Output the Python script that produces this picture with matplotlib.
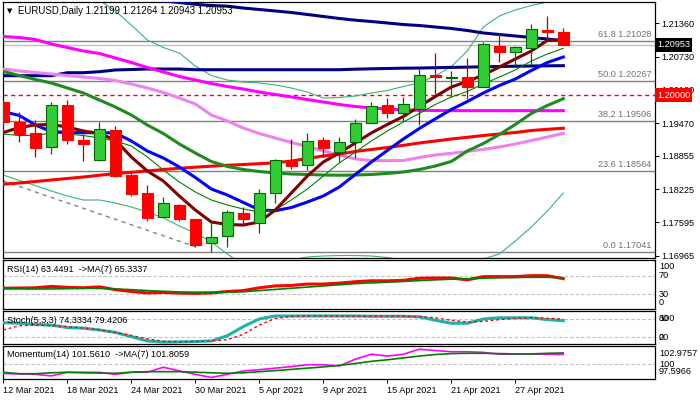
import matplotlib
matplotlib.use('Agg')
import matplotlib.pyplot as plt
from matplotlib.patches import Rectangle
import pandas as pd

plt.rcParams['font.family'] = ['Liberation Sans', 'DejaVu Sans']

# ---------------- data ----------------
dates = ['2021-03-12', '2021-03-15', '2021-03-16', '2021-03-17', '2021-03-18', '2021-03-19',
         '2021-03-22', '2021-03-23', '2021-03-24', '2021-03-25', '2021-03-26', '2021-03-29',
         '2021-03-30', '2021-03-31', '2021-04-01', '2021-04-02', '2021-04-05', '2021-04-06',
         '2021-04-07', '2021-04-08', '2021-04-09', '2021-04-12', '2021-04-13', '2021-04-14',
         '2021-04-15', '2021-04-16', '2021-04-19', '2021-04-20', '2021-04-21', '2021-04-22',
         '2021-04-23', '2021-04-26', '2021-04-27', '2021-04-28', '2021-04-29', '2021-04-30']

opens = [1.19877, 1.19493, 1.19279, 1.19015, 1.19809, 1.19152, 1.18774, 1.19342, 1.18490, 1.18149,
         1.17690, 1.17928, 1.17652, 1.17198, 1.17330, 1.17766, 1.17576, 1.18144, 1.18755, 1.18673,
         1.19152, 1.18920, 1.19109, 1.19480, 1.19815, 1.19657, 1.19733, 1.20382, 1.20331, 1.20350,
         1.20149, 1.20925, 1.20811, 1.20887, 1.21233, 1.21199]
highs = [1.19910, 1.19688, 1.19525, 1.19871, 1.19909, 1.19241, 1.19493, 1.19417, 1.18553, 1.18301,
         1.18068, 1.17940, 1.17660, 1.17620, 1.17828, 1.17879, 1.18220, 1.18790, 1.19171, 1.19280,
         1.19215, 1.19203, 1.19549, 1.19877, 1.19941, 1.19960, 1.20495, 1.20804, 1.20463, 1.20698,
         1.21001, 1.21171, 1.20925, 1.21347, 1.21504, 1.21264]
lows = [1.19270, 1.19120, 1.18836, 1.18882, 1.19071, 1.18755, 1.18755, 1.18447, 1.18093, 1.17620,
        1.17690, 1.17620, 1.17134, 1.17041, 1.17134, 1.17525, 1.17399, 1.17955, 1.18598, 1.18585,
        1.18836, 1.18730, 1.18812, 1.19468, 1.19563, 1.19518, 1.19440, 1.20017, 1.19971, 1.19928,
        1.20149, 1.20634, 1.20571, 1.20571, 1.21044, 1.20943]
closes = [1.19498, 1.19271, 1.19007, 1.19809, 1.19147, 1.19071, 1.19355, 1.18477, 1.18136, 1.17682,
          1.17955, 1.17658, 1.17172, 1.17317, 1.17785, 1.17652, 1.18144, 1.18768, 1.18666, 1.19139,
          1.19007, 1.19109, 1.19480, 1.19796, 1.19657, 1.19828, 1.20382, 1.20350, 1.20339, 1.20149,
          1.20963, 1.20811, 1.20906, 1.21246, 1.21190, 1.20953]

ma_navy_upper = [1.22087, 1.22057, 1.22027, 1.21996, 1.21966, 1.21936, 1.21905, 1.21875, 1.21845, 1.21815,
                 1.21784, 1.21754, 1.21719, 1.21697, 1.21684, 1.21649, 1.21621, 1.21593, 1.21564, 1.21527,
                 1.21489, 1.21451, 1.21419, 1.21394, 1.21366, 1.21337, 1.21318, 1.21290, 1.21262, 1.21224,
                 1.21177, 1.21148, 1.21120, 1.21091, 1.21063, 1.21031]
ma_navy_lower = [1.20369, 1.20369, 1.20369, 1.20369, 1.20425, 1.20425, 1.20444, 1.20477, 1.20486, 1.20495,
                 1.20495, 1.20495, 1.20482, 1.20482, 1.20482, 1.20482, 1.20482, 1.20482, 1.20482, 1.20482,
                 1.20482, 1.20482, 1.20492, 1.20499, 1.20505, 1.20511, 1.20514, 1.20520, 1.20526, 1.20531,
                 1.20537, 1.20543, 1.20548, 1.20552, 1.20556, 1.20558]
ma_magenta = [1.21110, 1.21091, 1.21054, 1.20968, 1.20902, 1.20836, 1.20789, 1.20704, 1.20618, 1.20524,
              1.20439, 1.20354, 1.20287, 1.20221, 1.20164, 1.20117, 1.20060, 1.20013, 1.19966, 1.19918,
              1.19871, 1.19824, 1.19786, 1.19758, 1.19739, 1.19724, 1.19714, 1.19710, 1.19708, 1.19707,
              1.19707, 1.19707, 1.19707, 1.19707, 1.19707, 1.19707]
ma_violet = [1.20495, 1.20458, 1.20429, 1.20401, 1.20372, 1.20344, 1.20316, 1.20278, 1.20212, 1.20136,
             1.20051, 1.19947, 1.19833, 1.19625, 1.19512, 1.19379, 1.19275, 1.19190, 1.19105, 1.19029,
             1.18944, 1.18869, 1.18793, 1.18764, 1.18761, 1.18764, 1.18821, 1.18869, 1.18901, 1.18935,
             1.18976, 1.19020, 1.19077, 1.19143, 1.19209, 1.19279]
ma_red = [1.18316, 1.18339, 1.18367, 1.18396, 1.18424, 1.18452, 1.18485, 1.18517, 1.18541, 1.18566,
          1.18594, 1.18617, 1.18638, 1.18657, 1.18674, 1.18689, 1.18704, 1.18721, 1.18755, 1.18802,
          1.18850, 1.18887, 1.18935, 1.18973, 1.19010, 1.19052, 1.19096, 1.19133, 1.19171, 1.19203,
          1.19237, 1.19266, 1.19294, 1.19332, 1.19355, 1.19374]
ma_green = [1.20448, 1.20372, 1.20297, 1.20231, 1.20136, 1.20041, 1.19909, 1.19777, 1.19625, 1.19436,
            1.19275, 1.19077, 1.18906, 1.18746, 1.18651, 1.18594, 1.18556, 1.18528, 1.18509, 1.18500,
            1.18490, 1.18486, 1.18490, 1.18500, 1.18519, 1.18547, 1.18594, 1.18660, 1.18746, 1.18944,
            1.19086, 1.19256, 1.19446, 1.19654, 1.19805, 1.19934]
ma_blue = [1.19688, 1.19616, 1.19436, 1.19313, 1.19294, 1.19290, 1.19290, 1.19285, 1.19133, 1.18944,
           1.18812, 1.18642, 1.18443, 1.18225, 1.18112, 1.17970, 1.17832, 1.17815, 1.17875, 1.17979,
           1.18093, 1.18263, 1.18500, 1.18736, 1.18954, 1.19171, 1.19370, 1.19553, 1.19729, 1.19881,
           1.20041, 1.20183, 1.20306, 1.20467, 1.20618, 1.20722]
ma_maroon = [1.19294, 1.19389, 1.19436, 1.19446, 1.19398, 1.19323, 1.19275, 1.19152, 1.18831, 1.18566,
             1.18377, 1.18093, 1.17828, 1.17601, 1.17554, 1.17544, 1.17601, 1.17828, 1.18150, 1.18471,
             1.18736, 1.18906, 1.19096, 1.19285, 1.19446, 1.19597, 1.19786, 1.19975, 1.20155, 1.20259,
             1.20382, 1.20533, 1.20685, 1.20836, 1.21035, 1.21044]
ma_thin = [1.19266, 1.19237, 1.19237, 1.19285, 1.19266, 1.19237, 1.19190, 1.19133, 1.19039, 1.18831,
           1.18585, 1.18358, 1.18169, 1.18017, 1.17923, 1.17847, 1.17790, 1.17828, 1.18017, 1.18225,
           1.18471, 1.18717, 1.18925, 1.19133, 1.19323, 1.19493, 1.19654, 1.19824, 1.19966, 1.20070,
           1.20212, 1.20344, 1.20477, 1.20647, 1.20779, 1.20887]
bb_upper = [1.22936, 1.22747, 1.22558, 1.22368, 1.22179, 1.21990, 1.21801, 1.21593, 1.21328, 1.21044,
            1.20902, 1.20798, 1.20552, 1.20372, 1.20287, 1.20250, 1.20231, 1.20193, 1.20136, 1.20060,
            1.19947, 1.19956, 1.19985, 1.20041, 1.20089, 1.20164, 1.20231, 1.20363, 1.20543, 1.20836,
            1.21290, 1.21498, 1.21612, 1.21697, 1.21763, 1.21820]
bb_lower = [1.18490, 1.18386, 1.18292, 1.18187, 1.18093, 1.18017, 1.18017, 1.17960, 1.17885, 1.17790,
            1.17677, 1.17525, 1.17393, 1.17223, 1.16996, 1.16787, 1.16693, 1.16769, 1.16882, 1.16939,
            1.16958, 1.16967, 1.16967, 1.16958, 1.16929, 1.16882, 1.16844, 1.16825, 1.16844, 1.16863,
            1.16901, 1.16996, 1.17241, 1.17506, 1.17809, 1.18150]

trend_dates = ['2021-03-12', '2021-03-30']
trend_prices = [1.18377, 1.17134]

fib_levels = [1.21028, 1.20267, 1.19506, 1.18564, 1.17041]
fib_names = ['61.8', '50.0', '38.2', '23.6', '0.0']
bid_price = 1.20953
round_level = 1.20000
price_ticks = [1.21360, 1.20730, 1.20100, 1.19470, 1.18855, 1.18225, 1.17595, 1.16965]

rsi = [43, 43.5, 44, 47, 45, 44, 46, 40, 36, 33, 34, 32.5, 32, 33, 36, 38, 44, 48, 49, 52,
       52, 54, 57, 59, 59, 60, 64.5, 65, 65, 61, 68, 68, 68, 70, 70, 63.4491]
rsi_ma = [43, 42, 41.5, 41.5, 42, 43, 42.5, 41.5, 40, 38, 36.5, 35, 34.5, 34.2, 34.5, 35.5, 38, 40.5,
          43, 45.5, 48, 50.5, 53, 54.5, 56, 57.5, 59.5, 61, 62.5, 63.5, 64.5, 65.5, 66, 66.5, 66.5, 65.3337]
stoch_main = [68, 66, 62, 60, 52, 50, 44, 36, 22, 8, 4, 5, 6, 8, 25, 55, 80, 90, 90, 90,
              90, 90, 90, 89, 89, 89, 87, 76, 66, 66, 80, 84, 84, 84, 78, 74.3334]
stoch_signal = [44, 58, 60, 58, 55, 50, 45, 36, 26, 15, 7, 5, 6, 8, 12, 30, 60, 82, 88, 90,
                90, 89, 89, 89, 89, 89, 88, 84, 76, 70, 72, 78, 82, 84, 82, 79.4206]
momentum = [98.5, 98.4, 98.35, 98.1, 98.68, 98.68, 98.68, 98.35, 98.68, 98.68, 99.5, 98.9, 98.35,
            97.85, 98.35, 98.9, 99.1, 99.35, 99.6, 99.9, 99.9, 99.7, 100.8, 101.6, 101.3, 101.6,
            102.4, 102.2, 102.0, 102.0, 101.9, 101.6, 101.6, 101.6, 101.6, 101.5610]
momentum_ma = [98.68, 98.45, 98.45, 98.6, 98.68, 98.6, 98.55, 98.52, 98.7, 98.78, 98.78, 98.78, 98.7,
               98.6, 98.52, 98.6, 98.78, 98.95, 99.15, 99.35, 99.55, 99.8, 100.1, 100.45, 100.7,
               101.0, 101.3, 101.55, 101.7, 101.75, 101.75, 101.7, 101.65, 101.65, 101.75, 101.8059]
momentum_max = 102.9757
momentum_min = 97.5966

tick_dates = ['2021-03-12', '2021-03-18', '2021-03-24', '2021-03-30', '2021-04-05',
              '2021-04-09', '2021-04-15', '2021-04-21', '2021-04-27']

# ---------------- layout ----------------
W, H = 700, 400
fig = plt.figure(figsize=(7, 4), dpi=100)
fig.patch.set_facecolor('white')


def box(top, bottom, left=3, right=655):
    return [left / W, 1 - bottom / H, (right - left) / W, (bottom - top) / H]


ax = fig.add_axes(box(2, 258))
ax_rsi = fig.add_axes(box(259.5, 309))
ax_st = fig.add_axes(box(311, 344.3))
ax_mom = fig.add_axes(box(345.7, 379))

x = list(range(len(dates)))
pos = {d: i for i, d in enumerate(dates)}
XMIN, XMAX = -0.02, 40.73
FS = 6.6

for a in (ax, ax_rsi, ax_st, ax_mom):
    a.set_xlim(XMIN, XMAX)
    for s in a.spines.values():
        s.set_linewidth(0.9)
        s.set_color('black')
    a.tick_params(left=False, labelleft=False, bottom=False, labelbottom=False)

# ---------------- main chart ----------------
ax.set_ylim(1.16920, 1.21763)
ax.yaxis.tick_right()
ax.set_yticks(price_ticks)
ax.set_yticklabels([f'{v:.5f}' for v in price_ticks])
ax.tick_params(axis='y', right=True, labelright=True, length=3, width=0.7,
               pad=1.5, labelsize=FS, colors='black')

for lv, nm in zip(fib_levels, fib_names):
    ax.axhline(lv, color='#808080', lw=1.0, zorder=1)
    ax.annotate(f'{nm} {lv:.5f}', xy=(1, lv), xycoords=ax.get_yaxis_transform(),
                xytext=(-2.5, 1.5), textcoords='offset points', ha='right', va='bottom',
                fontsize=FS, color='#707070', zorder=6)
ax.axhline(bid_price, color='#C0C0C0', lw=1.0, zorder=1)
ax.axhline(round_level, color='#FF0000', lw=1.0, ls=(0, (3, 2.5)), zorder=1)

ax.plot(x, bb_upper, color='#3CB371', lw=0.8, zorder=2)
ax.plot(x, bb_lower, color='#3CB371', lw=0.8, zorder=2)
ax.plot([pos[d] for d in trend_dates], trend_prices, color='#778899', lw=1.0,
        ls=(0, (3, 3)), zorder=2)

ax.plot(x, ma_navy_upper, color='#000080', lw=2.2, zorder=3)
ax.plot(x, ma_navy_lower, color='#000080', lw=2.2, zorder=3)
ax.plot(x, ma_magenta, color='#FF00FF', lw=2.2, zorder=3)
ax.plot(x, ma_violet, color='#EE82EE', lw=2.2, zorder=3)
ax.plot(x, ma_red, color='#FF0000', lw=2.2, zorder=3)
ax.plot(x, ma_green, color='#1E8B1E', lw=2.2, zorder=3)
ax.plot(x, ma_blue, color='#0000FF', lw=2.2, zorder=3)
ax.plot(x, ma_thin, color='#008000', lw=0.8, zorder=3)
ax.plot(x, ma_maroon, color='#800000', lw=2.2, zorder=3)

bw = 0.66
for i, (o, h, l, c) in enumerate(zip(opens, highs, lows, closes)):
    up = c >= o
    wick = '#006400' if up else '#B00000'
    fill = '#32CD32' if up else '#FF0000'
    edge = '#006400' if up else '#FF0000'
    ax.vlines(i, l, h, color=wick, lw=0.9, zorder=4)
    bottom = min(o, c)
    height = max(abs(c - o), 0.00004)
    ax.add_patch(Rectangle((i - bw / 2, bottom), bw, height, facecolor=fill,
                           edgecolor=edge, lw=0.8, zorder=5))

ax.text(0.006, 0.965, '▼', transform=ax.transAxes, fontsize=5, ha='left', va='center',
        family=['DejaVu Sans'], color='black', zorder=7)
ax.text(0.023, 0.965, 'EURUSD,Daily ' + ' '.join(f'{v:.5f}' for v in
                                                   (opens[-1], highs[-1], lows[-1], closes[-1])),
        transform=ax.transAxes, fontsize=FS + 0.3, ha='left', va='center', color='black', zorder=7)

ytr = ax.get_yaxis_transform()
ax.text(1.003, bid_price, f'{bid_price:.5f}', transform=ytr, ha='left', va='center',
        fontsize=FS, color='white', zorder=8, clip_on=False,
        bbox=dict(boxstyle='square,pad=0.25', fc='black', ec='none'))
ax.text(1.003, round_level, f'{round_level:.5f}', transform=ytr, ha='left', va='center',
        fontsize=FS, color='white', zorder=8, clip_on=False,
        bbox=dict(boxstyle='square,pad=0.25', fc='#FF0000', ec='none'))

# ---------------- RSI ----------------
ax_rsi.set_ylim(-1.5, 104.7)
for lv in (70, 30):
    ax_rsi.axhline(lv, color='#C0C0C0', lw=0.8, ls=(0, (3, 2)), zorder=1)
ax_rsi.plot(x, rsi, color='#FF0000', lw=2.2, zorder=3)
ax_rsi.plot(x, rsi_ma, color='#008000', lw=1.2, zorder=4)
ax_rsi.text(0.006, 0.80, f'RSI(14) {rsi[-1]:.4f}  ->MA(7) {rsi_ma[-1]:.4f}',
            transform=ax_rsi.transAxes, fontsize=FS, ha='left', va='center')
rtr = ax_rsi.get_yaxis_transform()
ax_rsi.text(1.006, 0.855, '100', transform=ax_rsi.transAxes, fontsize=FS, va='center', clip_on=False)
ax_rsi.text(1.006, 70, '70', transform=rtr, fontsize=FS, va='center', clip_on=False)
ax_rsi.text(1.006, 30, '30', transform=rtr, fontsize=FS, va='center', clip_on=False)
ax_rsi.text(1.006, 0.127, '0', transform=ax_rsi.transAxes, fontsize=FS, va='center', clip_on=False)

# ---------------- Stochastic ----------------
ax_st.set_ylim(-3, 106.2)
for lv in (80, 20):
    ax_st.axhline(lv, color='#C0C0C0', lw=0.8, ls=(0, (3, 2)), zorder=1)
ax_st.plot(x, stoch_main, color='#20B2AA', lw=2.2, zorder=3)
ax_st.plot(x, stoch_signal, color='#FF0000', lw=1.0, ls=(0, (2, 2)), zorder=4)
ax_st.text(0.006, 0.72, f'Stoch(5,3,3) {stoch_main[-1]:.4f} {stoch_signal[-1]:.4f}',
           transform=ax_st.transAxes, fontsize=FS, ha='left', va='center', zorder=6)
str_ = ax_st.get_yaxis_transform()
for lbl, lv in (('100', 80), ('80', 80), ('20', 20), ('0', 20)):
    ax_st.text(1.006, lv, lbl, transform=str_, fontsize=FS, va='center', clip_on=False)

# ---------------- Momentum ----------------
ax_mom.set_ylim(momentum_min, momentum_max)
ax_mom.axhline(100, color='#C0C0C0', lw=0.8, ls=(0, (3, 2)), zorder=1)
ax_mom.plot(x, momentum, color='#FF00FF', lw=1.2, zorder=3)
ax_mom.plot(x, momentum_ma, color='#008000', lw=1.2, zorder=4)
ax_mom.text(0.006, 0.74, f'Momentum(14) {momentum[-1]:.4f}  ->MA(7) {momentum_ma[-1]:.4f}',
            transform=ax_mom.transAxes, fontsize=FS, ha='left', va='center')
mtr = ax_mom.get_yaxis_transform()
ax_mom.text(1.006, 0.76, f'{momentum_max:.4f}', transform=ax_mom.transAxes, fontsize=FS,
            va='center', clip_on=False)
ax_mom.text(1.006, 100, '100', transform=mtr, fontsize=FS, va='center', clip_on=False)
ax_mom.text(1.006, 0.22, f'{momentum_min:.4f}', transform=ax_mom.transAxes, fontsize=FS,
            va='center', clip_on=False)

tick_pos = [pos[d] for d in tick_dates]
tick_lbl = [f'{t.day} {t.strftime("%b %Y")}' for t in pd.to_datetime(tick_dates)]
ax_mom.set_xticks(tick_pos)
ax_mom.set_xticklabels(tick_lbl)
ax_mom.tick_params(axis='x', bottom=True, labelbottom=True, length=3, width=0.7,
                   pad=2, labelsize=FS, colors='black')
for t in ax_mom.get_xticklabels():
    t.set_horizontalalignment('left')

fig.savefig('out.png', dpi=100, facecolor='white')
